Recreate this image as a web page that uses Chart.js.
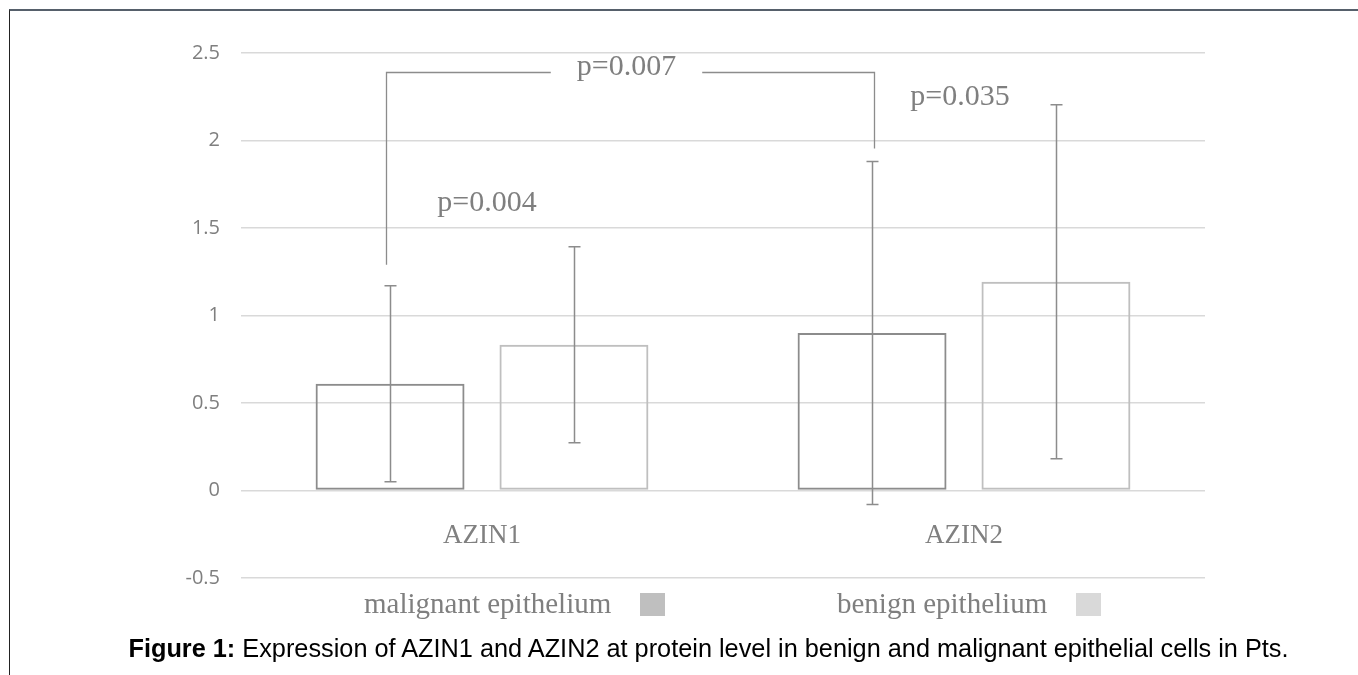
<!DOCTYPE html>
<html lang="en">
<head>
<meta charset="UTF-8" />
<title>AZIN1 / AZIN2 expression</title>
<script src="https://cdn.jsdelivr.net/npm/chart.js"></script>
<style>
  body {
    margin: 0;
    background: #fff;
    width: 1358px;
    height: 675px;
    overflow: hidden;
    position: relative;
  }
  .frame {
    position: absolute;
    left: 9px; top: 9px; right: -2px; bottom: -2px;
    border-top: 2px solid #56606b;
    border-left: 1px solid #222;
  }
  #wrap {
    position: absolute;
    left: 0; top: 0;
    width: 1358px; height: 675px;
  }
  .legend-item {
    position: absolute;
    top: 588px;
    font-family: 'Liberation Serif', serif;
    font-size: 29px;
    line-height: 30px;
    color: #7f7f7f;
    white-space: nowrap;
  }
  .legend-item .box {
    display: inline-block;
    width: 25px;
    height: 23px;
    vertical-align: -3px;
    margin-left: 29px;
  }
  .caption {
    position: absolute;
    left: 0; width: 1417px;
    top: 634px;
    text-align: center;
    font-family: 'Liberation Sans', Arial, sans-serif;
    font-size: 25.3px;
    line-height: 28px;
    color: #000;
    white-space: nowrap;
  }
</style>
</head>
<body>
  <div id="wrap"><canvas id="chart" width="1358" height="675"></canvas></div>
  <div class="frame"></div>
  <div id="legend"></div>
  <div class="caption"><b>Figure 1:</b> Expression of AZIN1 and AZIN2 at protein level in benign and malignant epithelial cells in Pts.</div>

  <script>
    const categories = ['AZIN1', 'AZIN2'];
    const seriesNames = ['malignant epithelium', 'benign epithelium'];
    const malignantMean = [0.61, 0.90];
    const malignantErr = [0.56, 0.98];
    const benignMean = [0.833, 1.193];
    const benignErr = [0.56, 1.012];
    const yTicks = [-0.5, 0, 0.5, 1, 1.5, 2, 2.5];

    // significance labels and the bracket between the two malignant bars
    const pTexts = ['p=0.004', 'p=0.035', 'p=0.007'];
    const pLevels = [1.64, 2.25, 2.42];
    const bracketLevels = [1.29, 2.39, 1.955]; // left foot, top, right foot

    const barColors = ['#8c8c8c', '#bfbfbf'];
    const legendColors = ['#bfbfbf', '#d9d9d9'];
    const legendLeft = [364, 837];

    // legend: text first, swatch after it
    const legendEl = document.getElementById('legend');
    seriesNames.forEach((name, i) => {
      const item = document.createElement('div');
      item.className = 'legend-item';
      item.style.left = legendLeft[i] + 'px';
      item.innerHTML = name + '<span class="box" style="background:' + legendColors[i] + '"></span>';
      legendEl.appendChild(item);
    });

    const errorBars = {
      id: 'errorBars',
      afterDatasetsDraw(chart) {
        const ctx = chart.ctx;
        const y = chart.scales.y;
        ctx.save();
        ctx.strokeStyle = '#8c8c8c';
        ctx.lineWidth = 1.5;
        chart.data.datasets.forEach((ds, di) => {
          chart.getDatasetMeta(di).data.forEach((bar, i) => {
            const m = ds.data[i], e = ds.errors[i];
            const x = Math.round(bar.x) + 0.5;
            const yTop = y.getPixelForValue(m + e);
            const yBot = y.getPixelForValue(m - e);
            ctx.beginPath();
            ctx.moveTo(x, yTop); ctx.lineTo(x, yBot);
            ctx.moveTo(x - 6, yTop); ctx.lineTo(x + 6, yTop);
            ctx.moveTo(x - 6, yBot); ctx.lineTo(x + 6, yBot);
            ctx.stroke();
          });
        });
        ctx.restore();
      }
    };

    const pAnnotations = {
      id: 'pAnnotations',
      afterDraw(chart) {
        const ctx = chart.ctx;
        const y = chart.scales.y;
        const m0 = chart.getDatasetMeta(0).data;
        const b0 = chart.getDatasetMeta(1).data;
        ctx.save();
        ctx.font = '30px "Liberation Serif", serif';
        ctx.fillStyle = '#7f7f7f';
        ctx.textAlign = 'center';
        ctx.textBaseline = 'middle';

        // labels over each pair of bars
        [0, 1].forEach(i => {
          const cx = (m0[i].x + b0[i].x) / 2 + (i === 0 ? 5 : -4);
          ctx.fillText(pTexts[i], cx, y.getPixelForValue(pLevels[i]));
        });

        // bracket between malignant AZIN1 and malignant AZIN2
        const xl = Math.round(m0[0].x) - 3.5;
        const xr = Math.round(m0[1].x) + 2.5;
        const yt = Math.round(y.getPixelForValue(bracketLevels[1])) + 0.5;
        const cx = (xl + xr) / 2 - 4;
        const half = ctx.measureText(pTexts[2]).width / 2 + 26;
        ctx.fillText(pTexts[2], cx, y.getPixelForValue(pLevels[2]));
        ctx.strokeStyle = '#8c8c8c';
        ctx.lineWidth = 1.3;
        ctx.beginPath();
        ctx.moveTo(xl, y.getPixelForValue(bracketLevels[0]));
        ctx.lineTo(xl, yt);
        ctx.lineTo(cx - half, yt);
        ctx.moveTo(cx + half, yt);
        ctx.lineTo(xr, yt);
        ctx.lineTo(xr, y.getPixelForValue(bracketLevels[2]));
        ctx.stroke();
        ctx.restore();
      }
    };

    new Chart(document.getElementById('chart'), {
      type: 'bar',
      data: {
        labels: categories,
        datasets: [
          {
            label: seriesNames[0],
            data: malignantMean,
            errors: malignantErr,
            backgroundColor: 'rgba(255,255,255,0)',
            borderColor: barColors[0],
            borderWidth: 2,
            borderSkipped: false
          },
          {
            label: seriesNames[1],
            data: benignMean,
            errors: benignErr,
            backgroundColor: 'rgba(255,255,255,0)',
            borderColor: barColors[1],
            borderWidth: 2,
            borderSkipped: false
          }
        ]
      },
      options: {
        responsive: false,
        animation: false,
        events: [],
        layout: { padding: { left: 0, right: 153, top: 53, bottom: 97 } },
        datasets: { bar: { categoryPercentage: 0.763, barPercentage: 0.81 } },
        plugins: {
          legend: { display: false },
          tooltip: { enabled: false }
        },
        scales: {
          x: {
            position: { y: 0 },
            grid: { display: false },
            border: { display: false },
            ticks: {
              padding: 21,
              maxRotation: 0,
              color: '#808080',
              font: { family: 'Liberation Serif', size: 27 }
            },
            afterFit(scale) { scale.height = 0; }
          },
          y: {
            min: -0.5,
            max: 2.5,
            afterBuildTicks(scale) { scale.ticks = yTicks.map(v => ({ value: v })); },
            afterFit(scale) { scale.width = 241; },
            grid: { color: '#d9d9d9', lineWidth: 1.5, drawTicks: false },
            border: { display: false },
            ticks: {
              padding: 21,
              color: '#7f7f7f',
              font: { family: 'Open Sans', size: 20 },
              callback: v => String(v)
            }
          }
        }
      },
      plugins: [errorBars, pAnnotations]
    });
  </script>
</body>
</html>
